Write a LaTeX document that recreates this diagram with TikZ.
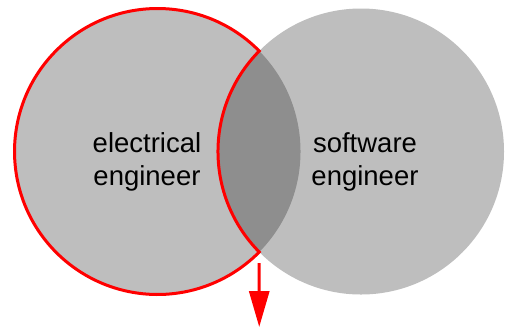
\documentclass[tikz,border=0pt]{standalone}
\usepackage{fontspec}
\setmainfont{Liberation Sans}
\usetikzlibrary{arrows.meta,calc}
\definecolor{SetClr}{rgb}{0,0,0}
\definecolor{EdgeClr}{rgb}{1,0,0}

\begin{document}
\begin{tikzpicture}
\useasboundingbox (0,0) rectangle (17.749,11.528);

\coordinate (E) at (5.536,6.203);
\coordinate (S) at (12.688,6.203);
\coordinate (T) at ($(E)+(44.65:5.026)$);
\coordinate (U) at ($(E)+(-44.65:5.026)$);

\fill[SetClr,fill opacity=0.255] (E) circle (5.026);
\fill[SetClr,fill opacity=0.255] (S) circle (5.026);

\draw[EdgeClr,line width=3pt] (T) arc[start angle=44.65,end angle=315.35,radius=5.026]
  arc[start angle=224.65,end angle=135.35,radius=5.026] -- cycle;

\coordinate (p) at ($(U)+(0,-0.387)$);
\coordinate (q) at (9.111,0.035);
\draw[EdgeClr,line width=3pt,-{Triangle[length=36pt,width=20pt]}] (p) -- (q);

\node[align=center,font=\fontsize{27.5}{33}\selectfont] (elec) at (5.166,5.834) {electrical\\engineer};
\node[align=center,font=\fontsize{27.5}{33}\selectfont] (soft) at (12.828,5.834) {software\\engineer};

\end{tikzpicture}
\end{document}
